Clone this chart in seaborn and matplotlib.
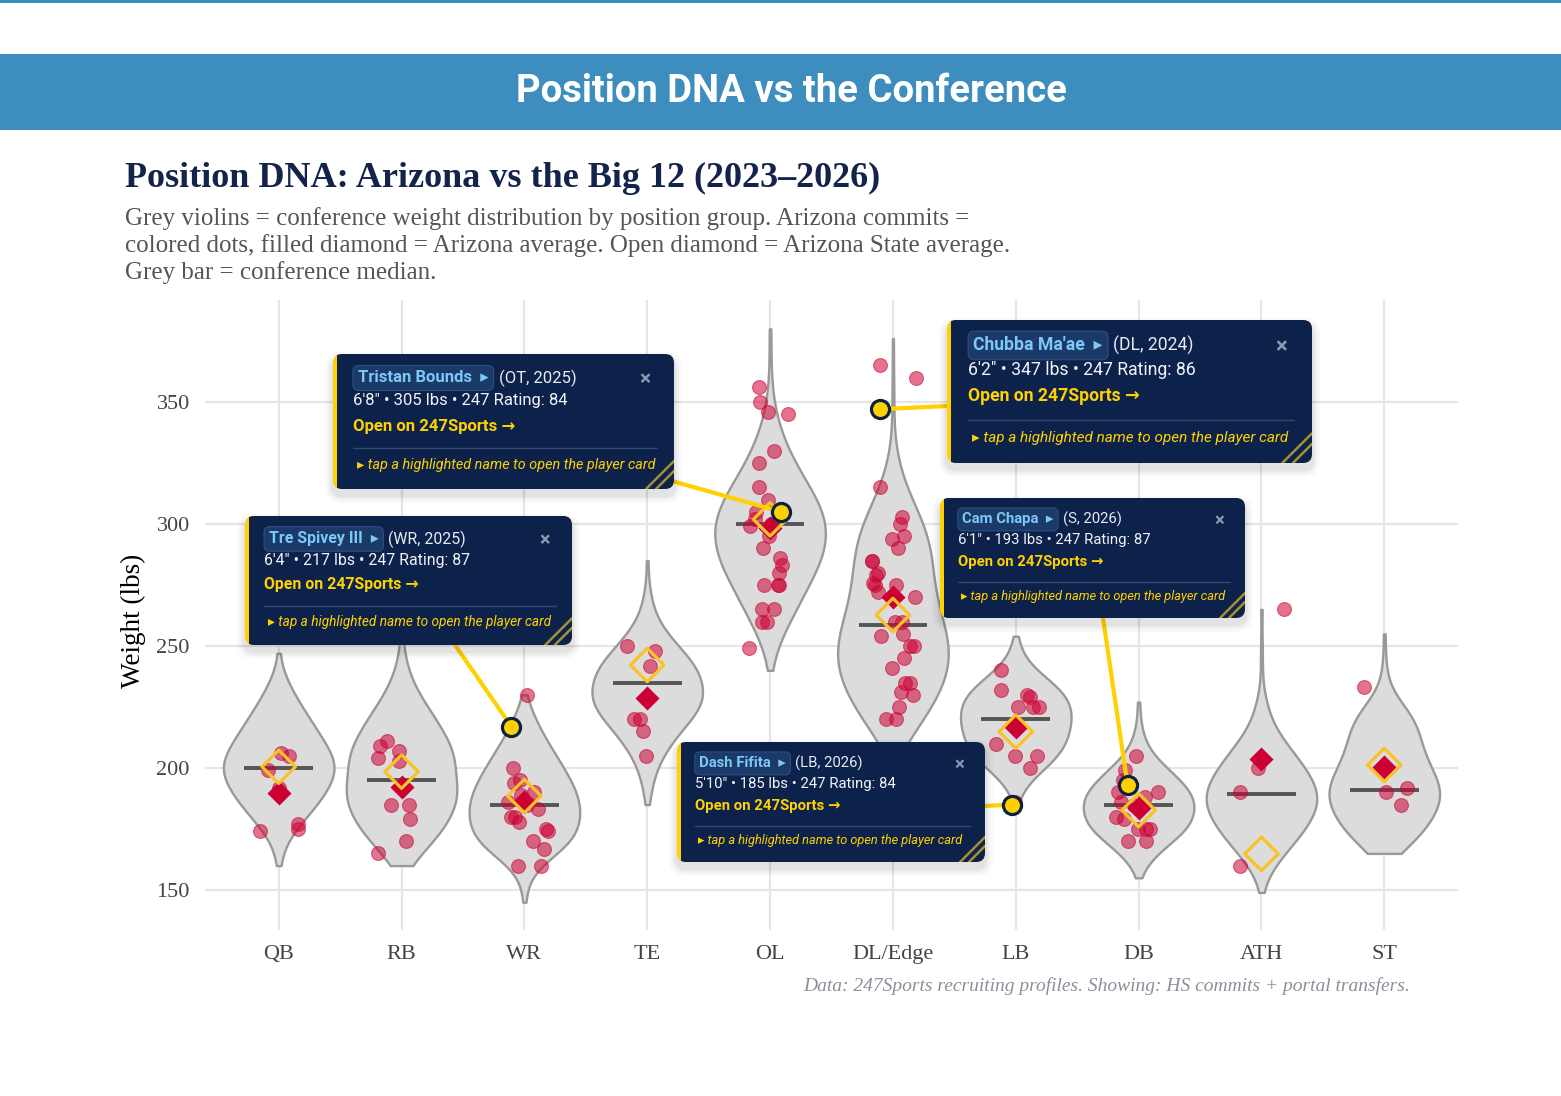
import numpy as np
import pandas as pd
import seaborn as sns
import matplotlib.pyplot as plt
from matplotlib.patches import FancyBboxPatch, Rectangle

positions = ['QB', 'RB', 'WR', 'TE', 'OL', 'DL/Edge', 'LB', 'DB', 'ATH', 'ST']

# conference (Big 12) weights in lbs, and how many players sit at each weight
conf_qb_w = [160, 165, 170, 175, 180, 185, 190, 195, 200, 205, 210, 215, 220, 225, 230, 235, 240, 247]
conf_qb_n = [1, 2, 4, 9, 14, 20, 24, 28, 30, 28, 24, 20, 16, 12, 8, 5, 2, 1]
conf_rb_w = [160, 165, 170, 175, 180, 185, 190, 195, 200, 205, 210, 215, 220, 225, 230, 235, 240, 245, 250, 258]
conf_rb_n = [5, 10, 16, 22, 25, 28, 30, 27, 27, 28, 25, 21, 18, 13, 9, 6, 3, 2, 1, 1]
conf_wr_w = [145, 150, 155, 160, 165, 170, 175, 180, 185, 190, 195, 200, 205, 210, 215, 220, 225, 230]
conf_wr_n = [1, 1, 3, 8, 18, 26, 29, 30, 30, 28, 25, 21, 17, 13, 9, 6, 3, 1]
conf_te_w = [185, 190, 195, 200, 205, 210, 215, 220, 225, 230, 235, 240, 245, 250, 255, 260, 265, 270, 275, 285]
conf_te_n = [1, 2, 3, 5, 8, 12, 17, 23, 28, 30, 28, 27, 22, 16, 10, 6, 3, 2, 1, 1]
conf_ol_w = [240, 245, 250, 255, 260, 265, 270, 275, 280, 285, 290, 295, 300, 305, 310, 315, 320, 325,
             330, 335, 340, 345, 350, 355, 360, 370, 380]
conf_ol_n = [1, 2, 4, 7, 10, 14, 17, 20, 24, 27, 29, 30, 30, 28, 25, 21, 17, 13, 10, 7, 5, 3, 2, 1, 1, 1, 1]
conf_dl_w = [205, 210, 215, 220, 225, 230, 235, 240, 245, 250, 255, 260, 265, 270, 275, 280, 285, 290,
             295, 300, 305, 310, 315, 320, 325, 330, 340, 350, 360, 376]
conf_dl_n = [2, 6, 12, 16, 20, 24, 27, 29, 30, 30, 28, 26, 24, 22, 21, 21, 20, 20, 19, 16, 13, 10, 7, 4,
             3, 2, 1, 1, 1, 1]
conf_lb_w = [187, 190, 195, 200, 205, 210, 215, 220, 225, 230, 235, 240, 245, 250, 254]
conf_lb_n = [1, 3, 8, 16, 23, 27, 29, 30, 30, 27, 20, 11, 5, 2, 1]
conf_db_w = [155, 160, 165, 170, 175, 180, 185, 190, 195, 200, 205, 210, 215, 220, 227]
conf_db_n = [1, 4, 10, 18, 26, 29, 30, 28, 22, 15, 8, 4, 2, 1, 1]
conf_ath_w = [149, 155, 160, 165, 170, 175, 180, 185, 190, 195, 200, 205, 210, 215, 220, 225, 230, 240, 250, 265]
conf_ath_n = [1, 3, 7, 12, 18, 23, 27, 30, 30, 27, 23, 18, 13, 8, 5, 3, 2, 1, 1, 1]
conf_st_w = [165, 170, 175, 180, 185, 190, 195, 200, 205, 210, 215, 220, 225, 230, 235, 240, 245, 255]
conf_st_n = [9, 15, 22, 25, 29, 30, 28, 24, 21, 19, 18, 16, 11, 5, 2, 1, 1, 1]

# Arizona commits (lbs)
az_qb = [206, 205, 199, 192, 177, 175, 174]
az_rb = [211, 209, 207, 204, 203, 185, 185, 179, 170, 165]
az_wr = [230, 200, 195, 194, 190, 189, 186, 185, 183, 180, 180, 178, 175, 174, 170, 167, 160, 160]
az_te = [250, 248, 242, 220, 220, 215, 205]
az_ol = [356, 350, 346, 345, 330, 325, 315, 310, 305, 302, 300, 299, 295, 290, 286, 283, 280, 275, 275,
         275, 265, 265, 260, 260, 249]
az_dl = [365, 360, 315, 303, 300, 295, 294, 290, 285, 285, 280, 279, 276, 275, 275, 272, 270, 260, 260,
         255, 254, 250, 250, 245, 241, 235, 235, 231, 230, 225, 220, 220]
az_lb = [240, 232, 230, 229, 225, 225, 225, 210, 205, 205, 200, 186]
az_db = [205, 199, 195, 190, 190, 188, 186, 185, 180, 179, 175, 175, 175, 170, 170]
az_ath = [265, 200, 190, 160]
az_st = [233, 192, 190, 185]

az_avg = [189.6, 192.3, 186.1, 228.5, 298.2, 270.2, 216.9, 183.4, 203.7, 200.5]
asu_avg = [200.5, 198.5, 188.5, 242.2, 301.9, 262.7, 214.9, 182.7, 164.8, 201.2]
conf_median = [200, 195, 185, 235, 300, 258.6, 220, 185, 189.5, 191]

# highlighted players (tooltips)
hl_names = ['Tristan Bounds', 'Tre Spivey III', "Chubba Ma'ae", 'Cam Chapa', 'Dash Fifita']
hl_group = ['OL', 'WR', 'DL/Edge', 'DB', 'LB']
hl_tag = ['OT', 'WR', 'DL', 'S', 'LB']
hl_year = [2025, 2025, 2024, 2026, 2026]
hl_height = ['6\'8"', '6\'4"', '6\'2"', '6\'1"', '5\'10"']
hl_lbs = [305, 217, 347, 193, 185]
hl_rating = [84, 87, 86, 87, 84]

conf_w = [conf_qb_w, conf_rb_w, conf_wr_w, conf_te_w, conf_ol_w, conf_dl_w, conf_lb_w, conf_db_w, conf_ath_w, conf_st_w]
conf_n = [conf_qb_n, conf_rb_n, conf_wr_n, conf_te_n, conf_ol_n, conf_dl_n, conf_lb_n, conf_db_n, conf_ath_n, conf_st_n]
az_all = [az_qb, az_rb, az_wr, az_te, az_ol, az_dl, az_lb, az_db, az_ath, az_st]

conf = pd.concat([pd.DataFrame({'pos': p, 'weight': np.repeat(w, n)})
                  for p, w, n in zip(positions, conf_w, conf_n)], ignore_index=True)
az = pd.concat([pd.DataFrame({'pos': p, 'weight': w}) for p, w in zip(positions, az_all)], ignore_index=True)

sns.set_style('white')
plt.rcParams['font.family'] = ['Liberation Serif', 'DejaVu Serif']

W, H = 1561, 1096
NAVY = '#0d224a'
GOLD = '#FFD100'
RED = '#cc0033'
SANS = ['Roboto', 'DejaVu Sans']

fig = plt.figure(figsize=(W / 100, H / 100), dpi=100)
ax = fig.add_axes([205 / W, 1 - 930 / H, (1458 - 205) / W, (930 - 300) / H])

sns.violinplot(data=conf, x='pos', y='weight', order=positions, inner=None, cut=0,
               density_norm='width', width=0.9, color='#dcdcdc', saturation=1,
               linecolor='#999999', linewidth=1.7, ax=ax)
idx = np.arange(len(positions))
ax.hlines(conf_median, idx - 0.28, idx + 0.28, color='#555555', lw=2.8, zorder=2)
np.random.seed(3)
sns.stripplot(data=az, x='pos', y='weight', order=positions, color=RED, alpha=0.55, size=10,
              jitter=0.2, linewidth=0.8, edgecolor=RED, ax=ax, zorder=3)
ax.scatter(idx, az_avg, marker='D', s=150, color=RED, zorder=4, lw=0)
ax.scatter(idx, asu_avg, marker='D', s=290, facecolor='none', edgecolor='#F9C325', lw=2.3, zorder=5)

ax.set_xlim(-0.6, 9.6)
ax.set_ylim(133.6, 391.8)
ax.set_yticks([150, 200, 250, 300, 350])
ax.grid(True, color='#e6e6e6', lw=1.6)
ax.set_axisbelow(True)
for sp in ax.spines.values():
    sp.set_visible(False)
ax.tick_params(length=0, labelsize=16, labelcolor='#444444')
ax.tick_params(axis='y', pad=11)
ax.tick_params(axis='x', pad=11)
ax.set_xlabel('')
ax.set_ylabel('Weight (lbs)', fontsize=19.5, color='black')
ax.yaxis.set_label_coords(-0.047, 0.49)

# overlay in pixel coordinates for titles and tooltips
ox = fig.add_axes([0, 0, 1, 1], zorder=10)
ox.set_xlim(0, W)
ox.set_ylim(H, 0)
ox.axis('off')

ox.add_patch(Rectangle((0, 0), W, 2.5, fc='#3d8ebf', ec='none'))
ox.add_patch(Rectangle((0, 54), W, 76, fc='#3d8ebf', ec='none'))
ox.text(791, 92, 'Position DNA vs the Conference', color='white', fontsize=27.5, fontweight='bold',
        family=SANS, ha='center', va='center')
ox.text(125, 178, 'Position DNA: Arizona vs the Big 12 (2023\u20132026)', color='#13234b', fontsize=26,
        fontweight='bold', ha='left', va='center')
sub = ['Grey violins = conference weight distribution by position group. Arizona commits =',
       'colored dots, filled diamond = Arizona average. Open diamond = Arizona State average.',
       'Grey bar = conference median.']
for k, line in enumerate(sub):
    ox.text(125, 219 + 27 * k, line, color='#555555', fontsize=18, ha='left', va='center')
ox.text(1410, 986, 'Data: 247Sports recruiting profiles. Showing: HS commits + portal transfers.',
        color='#8a8f99', fontsize=14, style='italic', ha='right', va='center')

renderer = fig.canvas.get_renderer()

# tooltip boxes: x0, y0, width, height, scale, leader anchor, dot x offset
tips = [(333, 354, 341, 135, 1.0, (672, 481), 0.09),
        (245, 516, 327, 129, 0.955, (455, 645), -0.106),
        (947, 320, 365, 143, 1.06, (947, 406), -0.106),
        (940, 498, 305, 120, 0.89, (1103, 618), -0.09),
        (677, 742, 308, 120, 0.89, (985, 806), -0.03)]

for i, (x0, y0, w, h, s, anchor, dx) in enumerate(tips):
    px, py = ax.transData.transform((positions.index(hl_group[i]) + dx, hl_lbs[i]))
    dot = (px, H - py)
    ox.plot([anchor[0], dot[0]], [anchor[1], dot[1]], color=GOLD, lw=3, zorder=3, solid_capstyle='round')
    ox.scatter([dot[0]], [dot[1]], s=170, facecolor=GOLD, edgecolor='#0c2340', lw=2.3, zorder=4)

    for k, a in [(16, 0.025), (10, 0.035), (5, 0.05)]:
        ox.add_patch(FancyBboxPatch((x0 - k / 2, y0 - k / 2 + 6), w + k, h + k,
                                    boxstyle=f'round,pad=0,rounding_size={9 + k / 2}',
                                    fc='black', ec='none', alpha=a, zorder=5))
    edge = FancyBboxPatch((x0, y0), w, h, boxstyle='round,pad=0,rounding_size=9', fc=GOLD, ec='none', zorder=6)
    ox.add_patch(edge)
    body = Rectangle((x0 + 4, y0), w, h, fc=NAVY, ec='none', zorder=7)
    ox.add_patch(body)
    body.set_clip_path(edge)

    base = 12 * s
    xl = x0 + 20 * s
    pad = 0.3 * base * 100 / 72
    t = ox.text(xl + pad, y0 + 24 * s, hl_names[i] + '  \u25B8', color='#7cc8f8', fontsize=base,
                fontweight='bold', family=SANS, va='center', zorder=9,
                bbox=dict(boxstyle='round,pad=0.3,rounding_size=0.35', fc='#1b3a68', ec='#2c4f82', lw=0.8))
    ext = t.get_window_extent(renderer=renderer)
    ox.text(ext.x1 + pad + 5 * s, y0 + 24 * s, f'({hl_tag[i]}, {hl_year[i]})', color='#e6ebf5',
            fontsize=base, family=SANS, va='center', zorder=9)
    ox.text(x0 + w - 29 * s, y0 + 26 * s, '\u00D7', color='#8e9ab0', fontsize=base * 1.25,
            family=SANS, fontweight='bold', ha='center', va='center', zorder=9)
    ox.text(xl, y0 + 47 * s, f'{hl_height[i]} \u2022 {hl_lbs[i]} lbs \u2022 247 Rating: {hl_rating[i]}',
            color='#f0f3f8', fontsize=base, family=SANS, va='center', zorder=9)
    ox.text(xl, y0 + 72 * s, 'Open on 247Sports \u2192', color=GOLD, fontsize=base, fontweight='bold',
            family=SANS, va='center', zorder=9)
    ox.plot([xl, x0 + w - 17 * s], [y0 + 94 * s] * 2, color='#34476d', lw=1, zorder=9)
    ox.text(xl + 4 * s, y0 + 111 * s, '\u25B8 tap a highlighted name to open the player card', color=GOLD,
            fontsize=base * 0.86, style='italic', family=SANS, va='center', zorder=9)
    for d in (28, 18):
        ln, = ox.plot([x0 + w - d * s, x0 + w], [y0 + h, y0 + h - d * s], color='#a38f36', lw=1.8, zorder=9)
        ln.set_clip_path(edge)

fig.savefig('out.png', dpi=100)
